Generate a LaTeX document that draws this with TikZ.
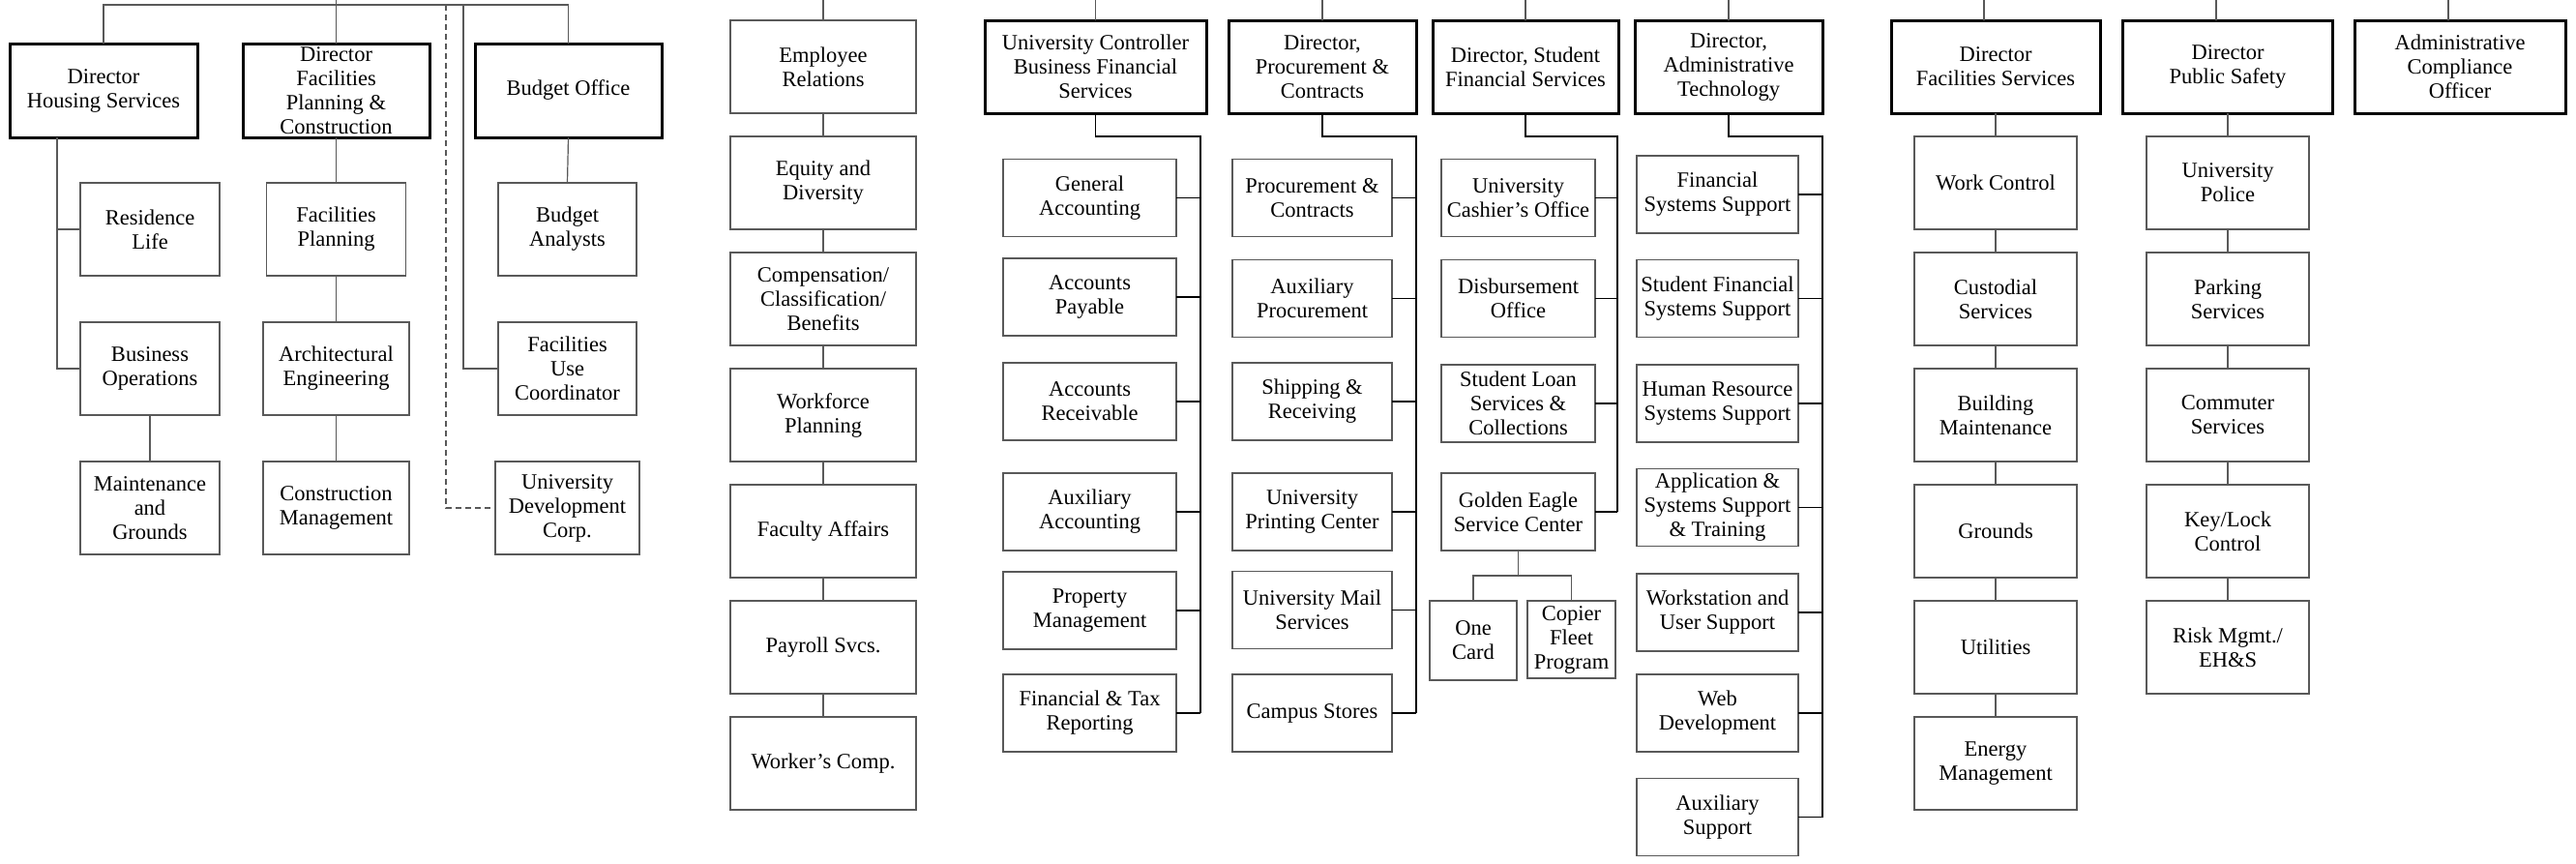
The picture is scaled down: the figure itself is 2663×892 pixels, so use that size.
\documentclass[tikz,border=0pt]{standalone}
\usepackage{fontspec}
\setmainfont{Liberation Serif}
\usepackage{tikz}
\usetikzlibrary{positioning}
\newcommand{\orgfont}{\fontsize{22.5}{25}\selectfont}
\tikzset{
  chief/.style={draw,line width=3pt,inner xsep=0pt,inner ysep=-10pt,outer sep=0pt,align=center,minimum height=96pt,font=\orgfont},
  office/.style={draw=black!65,line width=1.3pt,inner xsep=-2pt,inner ysep=-10pt,outer sep=0pt,align=center,minimum height=80pt,font=\orgfont},
  tall/.style={office,minimum height=96pt},
  wire/.style={draw=black!65,line width=1.2pt},
  trunk/.style={draw=black,line width=1.4pt},
}

\begin{document}
\begin{tikzpicture}[x=1pt,y=-1pt]
  \useasboundingbox (0,0) rectangle (2663,892);
  % housing, facilities planning, budget
  \node[chief,minimum width=194pt,minimum height=97pt] (hs) at (107,93.5) {Director\\Housing Services};
  \node[chief,minimum width=193pt,minimum height=97pt] (fpc) at (347.5,93.5) {Director\\Facilities\\Planning \&\\Construction};
  \node[chief,minimum width=193pt,minimum height=97pt] (bo) at (587.5,93.5) {Budget Office};
  \node[tall,minimum width=144pt] (rl) at (155,237) {Residence\\Life};
  \node[tall,minimum width=144pt,below=48pt of rl] (bop) {Business\\Operations};
  \node[tall,minimum width=144pt,below=48pt of bop] (mg) {Maintenance\\and\\Grounds};
  \node[tall,minimum width=144pt] (fp) at (347.5,237) {Facilities\\Planning};
  \node[tall,minimum width=151pt,below=48pt of fp] (ae) {Architectural\\Engineering};
  \node[tall,minimum width=151pt,below=48pt of ae] (cm) {Construction\\Management};
  \node[tall,minimum width=143pt] (ba) at (586.5,237) {Budget\\Analysts};
  \node[tall,minimum width=143pt,below=48pt of ba] (fuc) {Facilities\\Use\\Coordinator};
  \node[tall,minimum width=149pt,below=48pt of fuc] (udc) {University\\Development\\Corp.};
  \coordinate (hb) at ([xshift=-48pt]hs.south);
  \coordinate (fu) at (479,5);
  \coordinate (ud) at (461,5);
  \draw[wire] (hs.north) -- ++(0,-40) -| (bo.north);
  \draw[wire] (fpc.north) -- ++(0,-45);
  \draw[wire] (hb) |- (bop.west);
  \draw[wire] (hb |- rl.west) -- (rl.west);
  \draw[wire] (bop) -- (mg);
  \draw[wire] (fpc) -- (fp) (fp) -- (ae) (ae) -- (cm);
  \draw[wire] (bo.south) -- (ba.north);
  \draw[wire] (fu) |- (fuc.west);
  \draw[wire,dashed,dash pattern=on 6pt off 4pt] (ud) |- (udc.west);

  % human resources column
  \node[tall,minimum width=192pt] (er) at (851,69) {Employee\\Relations};
  \node[tall,minimum width=192pt,below=24pt of er] (ed) {Equity and\\Diversity};
  \node[tall,minimum width=192pt,below=24pt of ed] (ccb) {Compensation/\\Classification/\\Benefits};
  \node[tall,minimum width=192pt,below=24pt of ccb] (wp) {Workforce\\Planning};
  \node[tall,minimum width=192pt,below=24pt of wp] (fa) {Faculty Affairs};
  \node[tall,minimum width=192pt,below=24pt of fa] (ps) {Payroll Svcs.};
  \node[tall,minimum width=192pt,below=24pt of ps] (wcp) {Worker's Comp.};
  \draw[wire] (er.north) -- ++(0,-21);
  \foreach \a/\b in {er/ed,ed/ccb,ccb/wp,wp/fa,fa/ps,ps/wcp} \draw[wire] (\a) -- (\b);

  % controller
  \node[chief,minimum width=229pt] (ucf) at (1132.5,69) {University Controller\\Business Financial\\Services};
  \foreach \n/\y/\t in {ga/204.5/{General\\Accounting},apa/307/{Accounts\\Payable},are/415/{Accounts\\Receivable},aac/529/{Auxiliary\\Accounting},pm/631/{Property\\Management},ftr/737/{Financial \& Tax\\Reporting}}
    \node[office,minimum width=179pt] (\n) at (1126.5,\y) {\t};
  \coordinate (ucb) at (1241,141);
  \draw[wire] (ucf.north) -- ++(0,-21);
  \draw[trunk] (ucf.south) |- (ucb) -- (ucb |- ftr.east);
  \foreach \n in {ga,apa,are,aac,pm,ftr} \draw[trunk] (\n.east) -- (\n.east -| ucb);

  % procurement
  \node[chief,minimum width=194pt] (dpc) at (1367,69) {Director,\\Procurement \&\\Contracts};
  \foreach \n/\y/\t in {pc/204.5/{Procurement \&\\Contracts},ap/308.5/{Auxiliary\\Procurement},sr/415/{Shipping \&\\Receiving},upc/529/{University\\Printing Center},ums/630.5/{University Mail\\Services},cs/737/{Campus Stores}}
    \node[office,minimum width=165pt] (\n) at (1356.5,\y) {\t};
  \coordinate (pcb) at (1464,141);
  \draw[wire] (dpc.north) -- ++(0,-21);
  \draw[trunk] (dpc.south) |- (pcb) -- (pcb |- cs.east);
  \foreach \n in {pc,ap,sr,upc,ums,cs} \draw[trunk] (\n.east) -- (\n.east -| pcb);

  % student financial services
  \node[chief,minimum width=192pt] (dsf) at (1577,69) {Director, Student\\Financial Services};
  \foreach \n/\y/\t in {uco/204.5/{University\\Cashier's Office},dbo/308.5/{Disbursement\\Office},slc/417/{Student Loan\\Services \&\\Collections},ge/529/{Golden Eagle\\Service Center}}
    \node[office,minimum width=159pt] (\n) at (1569.5,\y) {\t};
  \node[office,minimum width=90pt,minimum height=82pt] (oc) at (1523,662) {One\\Card};
  \node[office,minimum width=91pt] (cf) at (1624.5,661) {Copier\\Fleet\\Program};
  \coordinate (sfb) at (1672,141);
  \coordinate (gej) at (1569.5,595);
  \draw[wire] (dsf.north) -- ++(0,-21);
  \draw[trunk] (dsf.south) |- (sfb) -- (sfb |- ge.east);
  \foreach \n in {uco,dbo,slc,ge} \draw[trunk] (\n.east) -- (\n.east -| sfb);
  \draw[wire] (ge.south) -- (gej);
  \draw[wire] (oc.north) |- (gej) -| (cf.north);

  % administrative technology
  \node[chief,minimum width=194pt] (dat) at (1787,69) {Director,\\Administrative\\Technology};
  \foreach \n/\y/\t in {fss/201/{Financial\\Systems Support},sfs/308.5/{Student Financial\\Systems Support},hrs/417/{Human Resource\\Systems Support},ass/524.5/{Application \&\\Systems Support\\\& Training},wus/633/{Workstation and\\User Support},wd/737/{Web\\Development},aus/844.5/{Auxiliary\\Support}}
    \node[office,minimum width=167pt] (\n) at (1775.5,\y) {\t};
  \coordinate (atb) at (1884,141);
  \draw[wire] (dat.north) -- ++(0,-21);
  \draw[trunk] (dat.south) |- (atb) -- (atb |- aus.east);
  \foreach \n in {fss,sfs,hrs,ass,wus,wd,aus} \draw[trunk] (\n.east) -- (\n.east -| atb);

  % facilities services
  \node[chief,minimum width=216pt] (dfs) at (2063,69) {Director\\Facilities Services};
  \node[tall,minimum width=168pt] (wc) at (2063,189) {Work Control};
  \node[tall,minimum width=168pt,below=24pt of wc] (cus) {Custodial\\Services};
  \node[tall,minimum width=168pt,below=24pt of cus] (bm) {Building\\Maintenance};
  \node[tall,minimum width=168pt,below=24pt of bm] (gr) {Grounds};
  \node[tall,minimum width=168pt,below=24pt of gr] (ut) {Utilities};
  \node[tall,minimum width=168pt,below=24pt of ut] (em) {Energy\\Management};
  \draw[wire] ([xshift=-12pt]dfs.north) -- ++(0,-21);
  \foreach \a/\b in {dfs/wc,wc/cus,cus/bm,bm/gr,gr/ut,ut/em} \draw[wire] (\a) -- (\b);

  % public safety
  \node[chief,minimum width=217pt] (dps) at (2303,69) {Director\\Public Safety};
  \node[tall,minimum width=168pt] (up) at (2303,189) {University\\Police};
  \node[tall,minimum width=168pt,below=24pt of up] (pks) {Parking\\Services};
  \node[tall,minimum width=168pt,below=24pt of pks] (cms) {Commuter\\Services};
  \node[tall,minimum width=168pt,below=24pt of cms] (klc) {Key/Lock\\Control};
  \node[tall,minimum width=168pt,below=24pt of klc] (rm) {Risk Mgmt./\\EH\&S};
  \draw[wire] ([xshift=-12pt]dps.north) -- ++(0,-21);
  \foreach \a/\b in {dps/up,up/pks,pks/cms,cms/klc,klc/rm} \draw[wire] (\a) -- (\b);

  % compliance
  \node[chief,minimum width=218pt] (aco) at (2543,69) {Administrative\\Compliance\\Officer};
  \draw[wire] ([xshift=-12pt]aco.north) -- ++(0,-21);
\end{tikzpicture}
\end{document}
